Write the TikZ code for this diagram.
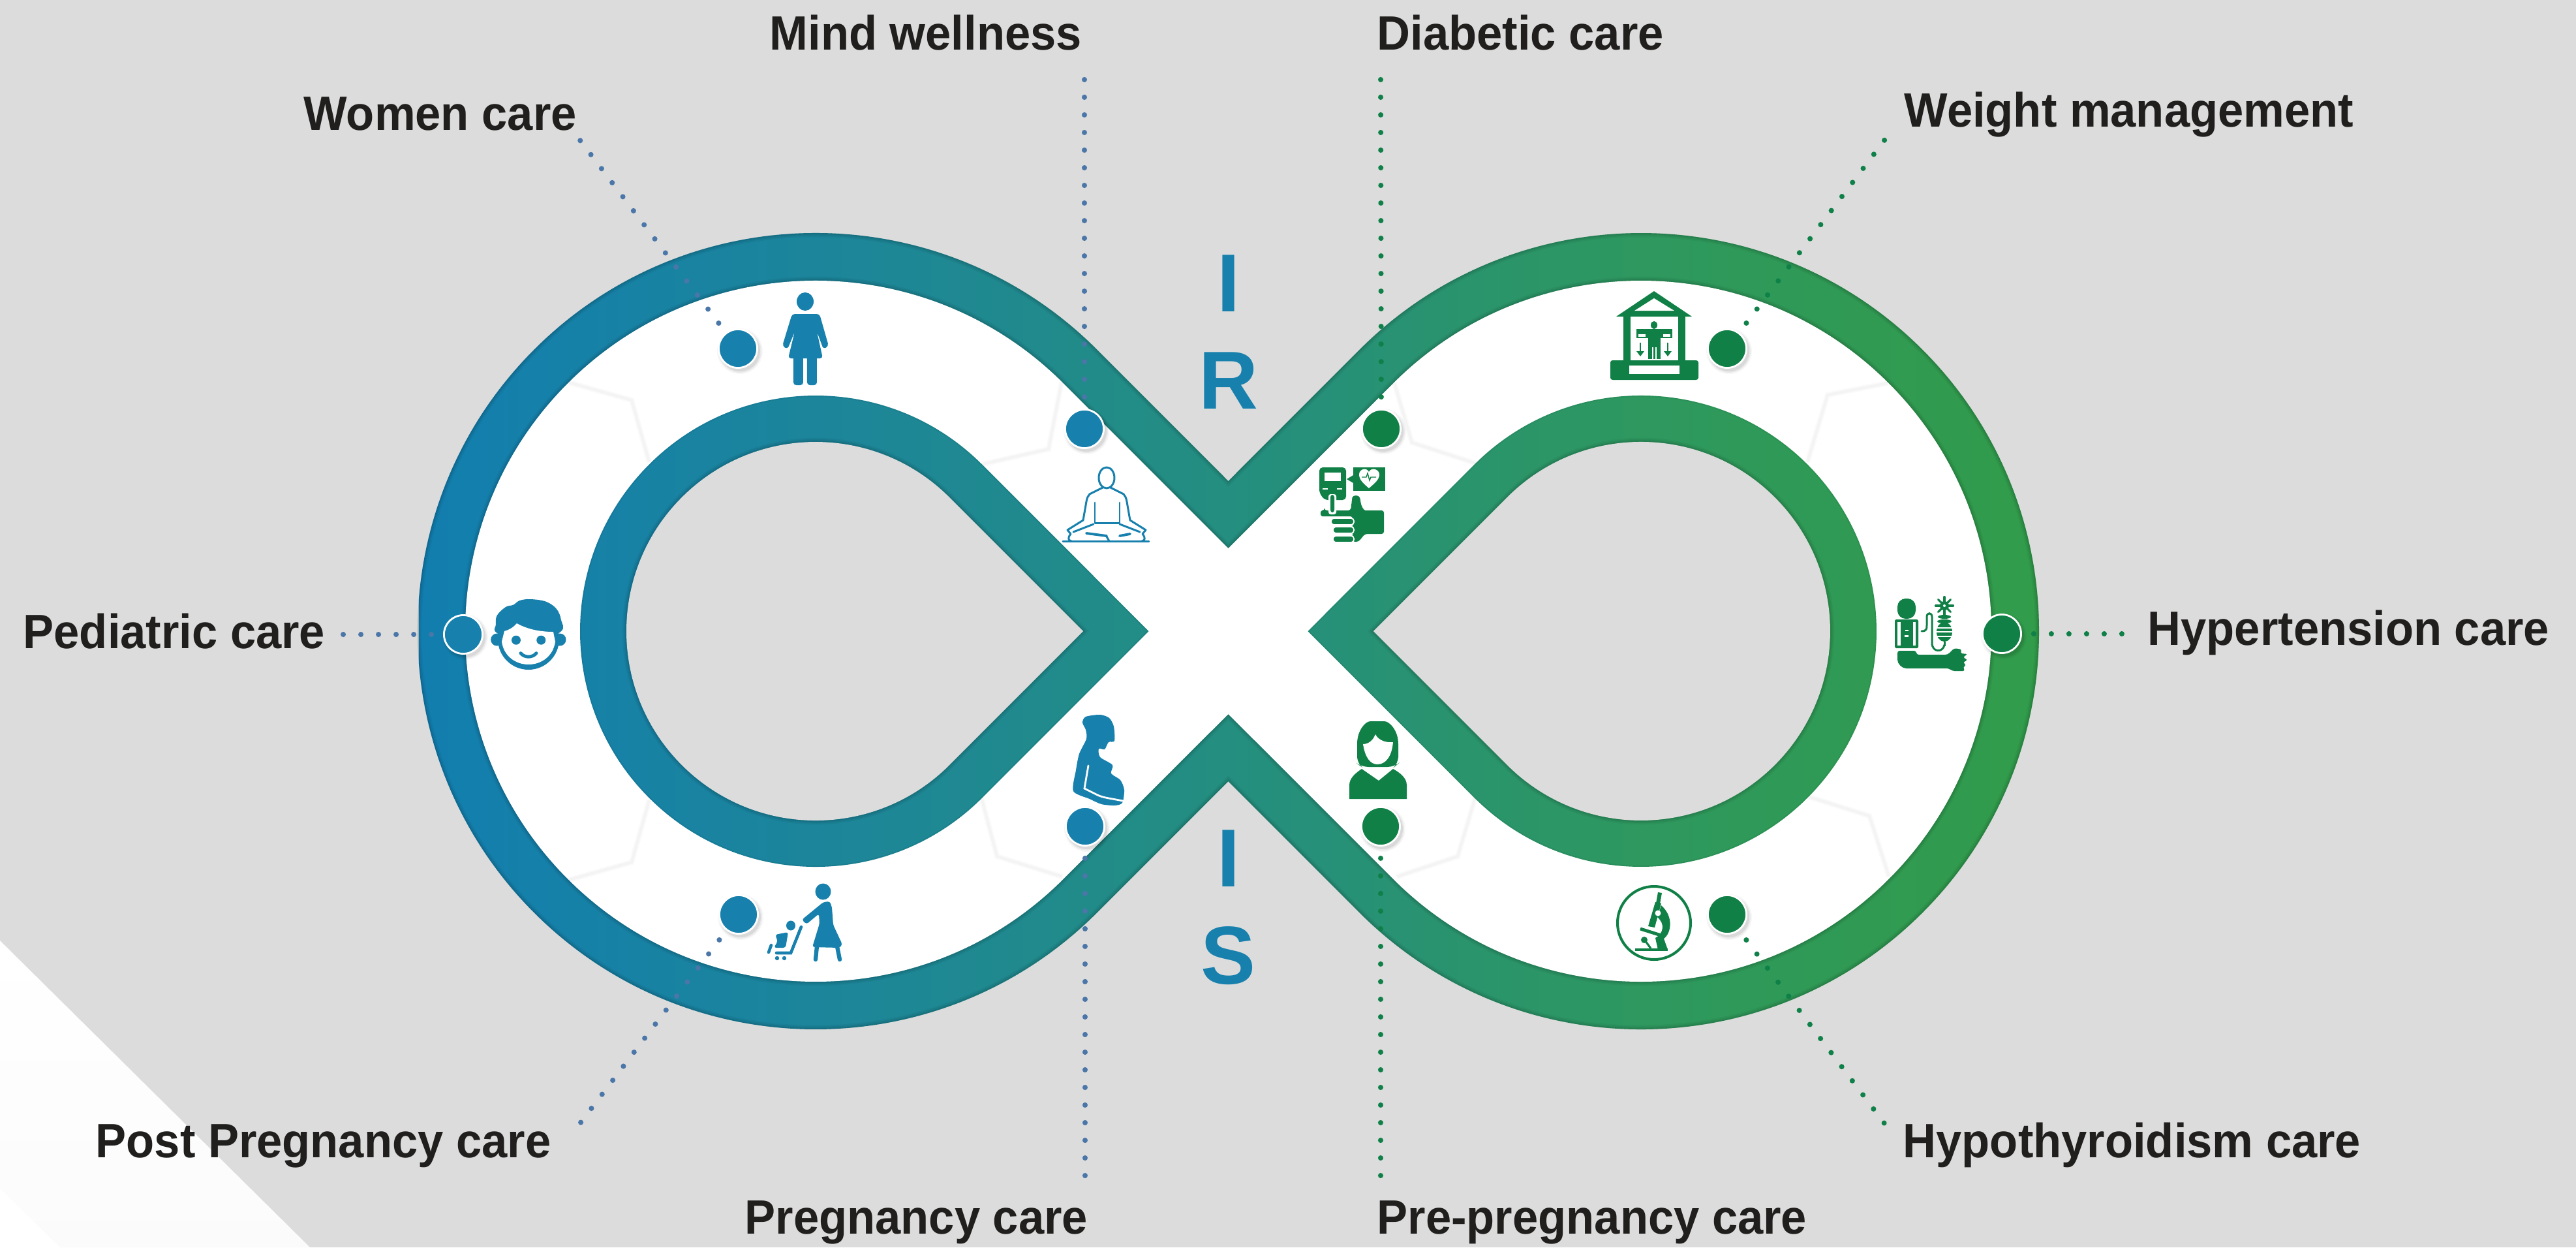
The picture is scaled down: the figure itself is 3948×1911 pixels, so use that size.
\documentclass[tikz,border=0pt]{standalone}
\usepackage{fontspec}
\newfontfamily\labf{Liberation Sans}[FakeStretch=0.955]
\newfontfamily\irisf{Liberation Sans}
\definecolor{bgg}{HTML}{DCDCDC}
\definecolor{cb}{HTML}{1780AD}
\definecolor{cg}{HTML}{108046}
\definecolor{dotb}{HTML}{4A76A8}
\definecolor{dotg}{HTML}{0F8048}
\definecolor{gra}{HTML}{127EAF}
\definecolor{grb}{HTML}{1C859B}
\definecolor{grc}{HTML}{248E80}
\definecolor{grd}{HTML}{2E985F}
\definecolor{gre}{HTML}{319C4A}
\definecolor{txt}{HTML}{201F1D}
\pgfdeclarehorizontalshading{irisgrad}{100bp}{color(0bp)=(gra); color(25bp)=(gra); color(37.25bp)=(grb); color(50bp)=(grc); color(62.75bp)=(grd); color(75bp)=(gre); color(100bp)=(gre)}
\def\outerpath{(0,230) -- (201.2,431.3) arc (135:-135:610) -- (0,-230) -- (-201.2,-431.3) arc (-45:-315:610) -- cycle}
\def\whitepath{(0,127) -- (252.8,379.7) arc (135:-135:537) -- (0,-127) -- (-252.8,-379.7) arc (-45:-315:537) -- cycle}
\def\ringR{(122,0) -- (377.2,255.3) arc (135:-135:361) -- cycle}
\def\ringL{(-122,0) -- (-377.2,-255.3) arc (-45:-315:361) -- cycle}
\def\holeR{(222.3,0) -- (427.4,205.1) arc (135:-135:290) -- cycle}
\def\holeL{(-222.3,0) -- (-427.4,-205.1) arc (-45:-315:290) -- cycle}
\newcommand\softstroke[1]{%
  \draw[black,opacity=.04,line width=3.6pt] #1;
  \draw[black,opacity=.05,line width=2.4pt] #1;
  \draw[black,opacity=.07,line width=1.2pt] #1;}
\newcommand\iconspot[4]{% name, x, y, colour
  \foreach \rr/\oo in {35/.03,33/.05,31/.07}{\fill[black,opacity=\oo] (#2+3,#3+4) circle (\rr);}
  \node[spotnode,fill=#4] (#1) at (#2,#3) {};}
\tikzset{
  x=0.01cm,y=0.01cm,
  spotnode/.style={circle,draw=white,line width=.8pt,inner sep=0pt,minimum size=16.8pt},
  bluedots/.style={draw=dotb,line width=2.3pt,line cap=round,dash pattern=on 0pt off 7.68pt,shorten <=5.1pt},
  greendots/.style={draw=dotg,line width=2.3pt,line cap=round,dash pattern=on 0pt off 7.68pt,shorten <=5.1pt},
  lab/.style={font=\labf\bfseries\fontsize{21}{25}\selectfont,text=txt,anchor=base west,inner sep=0pt},
  irisl/.style={font=\irisf\bfseries\fontsize{35.8}{40}\selectfont,text=cb,anchor=base,inner sep=0pt},
  facet/.style={line join=miter},
  thinb/.style={draw=cb,line width=.85pt,line cap=round,line join=round},
  thing/.style={draw=cg,line width=.85pt,line cap=round,line join=round}
}
\begin{document}
\begin{tikzpicture}
\path[use as bounding box] (-1882.5,-944) rectangle (2065.5,967);
\fill[bgg] (-1882.5,-944) rectangle (2065.5,967);

% ---- image coordinates from here: x right, y down, in reference pixels
\begin{scope}[shift={(-1882.5,967)},yscale=-1]
  \shade[top color=white,bottom color=white!97!gray] (0,1441) -- (3,1444) -- (475,1911) -- (0,1911) -- cycle;
  \fill[white] (0,1821) -- (3,1824) -- (92,1911) -- (0,1911) -- cycle;
\end{scope}

% ---- outer band
\begin{scope}
  \clip \outerpath;
  \shade[shading=irisgrad] (-1240.5,-700) rectangle (1242.5,700);
  \softstroke{\outerpath}
  \softstroke{\whitepath}
\end{scope}
\fill[white] \whitepath;

% ---- faint facets on the white track
\begin{scope}[shift={(-1882.5,967)},yscale=-1]
  \foreach \ax/\ay/\bx/\by/\cx/\cy in {872/586/968/613/995/708,1627/586/1607/688/1506/711,
     1504/1222/1528/1312/1628/1343,872/1348/968/1321/995/1226,
     2137/587/2164/678/2262/710,2893/587/2801/605/2770/708,
     2261/1222/2234/1312/2141/1343,2770/1220/2865/1250/2895/1343}{
    \draw[black,opacity=.02,line width=2.4pt,facet] (\ax,\ay) -- (\bx,\by) -- (\cx,\cy);
    \draw[black,opacity=.025,line width=1.2pt,facet] (\ax,\ay) -- (\bx,\by) -- (\cx,\cy);
  }
\end{scope}

% ---- inner rings
\begin{scope}
  \clip \ringR \ringL;
  \shade[shading=irisgrad] (-1240.5,-700) rectangle (1242.5,700);
  \softstroke{\holeR}
  \softstroke{\holeL}
  \draw[black,opacity=.05,line width=1.2pt] \ringR;
  \draw[black,opacity=.05,line width=1.2pt] \ringL;
\end{scope}
\fill[bgg] \holeR;
\fill[bgg] \holeL;

\begin{scope}[shift={(-1882.5,967)},yscale=-1]
  % free ends of the dotted connectors
  \coordinate (endW) at (886,211);
  \coordinate (endM) at (1662,113);
  \coordinate (endD) at (2116,113);
  \coordinate (endG) at (2891,211);
  \coordinate (endH) at (3256,971);
  \coordinate (endP) at (524,972);
  \coordinate (endT) at (2891,1725);
  \coordinate (endN) at (2116,1805);
  \coordinate (endQ) at (1663,1805);
  \coordinate (endS) at (886,1725);

  \iconspot{spotW}{1131}{534}{cb}
  \iconspot{spotM}{1662}{657}{cb}
  \iconspot{spotP}{710}{972}{cb}
  \iconspot{spotQ}{1663}{1266}{cb}
  \iconspot{spotS}{1132}{1401}{cb}
  \iconspot{spotD}{2117}{657}{cg}
  \iconspot{spotG}{2647}{534}{cg}
  \iconspot{spotH}{3068}{971}{cg}
  \iconspot{spotN}{2116}{1266}{cg}
  \iconspot{spotT}{2647}{1401}{cg}

  \draw[bluedots] (spotW) -- (endW);
  \draw[bluedots] (spotM) -- (endM);
  \draw[bluedots] (spotP) -- (endP);
  \draw[bluedots] (spotQ) -- (endQ);
  \draw[bluedots] (spotS) -- (endS);
  \draw[greendots] (spotD) -- (endD);
  \draw[greendots] (spotG) -- (endG);
  \draw[greendots] (spotH) -- (endH);
  \draw[greendots] (spotN) -- (endN);
  \draw[greendots] (spotT) -- (endT);

  % labels
  \node[lab] (tW) at (465,200) {Women care};
  \node[lab] (tM) at (1179,77) {Mind wellness};
  \node[lab] (tD) at (2110,77) {Diabetic care};
  \node[lab] (tG) at (2918,195) {Weight management};
  \node[lab] (tH) at (3291,988) {Hypertension care};
  \node[lab] (tP) at (35,993) {Pediatric care};
  \node[lab] (tT) at (2916,1773) {Hypothyroidism care};
  \node[lab] (tN) at (2110,1890) {Pre-pregnancy care};
  \node[lab] (tQ) at (1141,1890) {Pregnancy care};
  \node[lab] (tS) at (146,1773) {Post Pregnancy care};

  \node[irisl] (l1) at (1882.5,477) {I};
  \node[irisl] (l2) at (1882.5,626) {R};
  \node[irisl] (l3) at (1882.5,1358) {I};
  \node[irisl] (l4) at (1882.5,1507) {S};

  % ---- woman icon
  \fill[cb] (1234,462) ellipse (13 and 14);
  \fill[cb,rounded corners=1.2pt] (1214,481) -- (1256,481) -- (1270,530) -- (1262,535) -- (1252,508) -- (1261,549) -- (1208,549) -- (1218,508) -- (1207,535) -- (1199,530) -- cycle;
  \fill[cb,rounded corners=1.2pt] (1216,545) rectangle (1231,590);
  \fill[cb,rounded corners=1.2pt] (1237,545) rectangle (1252,590);

  % ---- meditation icon
  \draw[thinb] (1696,732) ellipse (12 and 16);
  \draw[thinb] (1690,747) -- (1670,757) .. controls (1665,762) and (1665,770) .. (1663,780) -- (1660,797) -- (1636,812) -- (1641,818);
  \draw[thinb] (1702,747) -- (1722,757) .. controls (1727,762) and (1727,770) .. (1729,780) -- (1732,797) -- (1756,812) -- (1751,818);
  \draw[thinb] (1678,770) -- (1678,801) -- (1716,801) -- (1716,770);
  \draw[thinb] (1645,815) -- (1676,803);
  \draw[thinb] (1747,815) -- (1716,803);
  \draw[thinb] (1641,818) .. controls (1636,824) and (1637,828) .. (1642,829);
  \draw[thinb] (1751,818) .. controls (1756,824) and (1755,828) .. (1750,829);
  \draw[thinb,line width=1.1pt] (1665,817) -- (1696,821);
  \draw[thinb,line width=1.1pt] (1716,821) -- (1732,818);
  \draw[thinb] (1696,822) -- (1700,829);
  \draw[thinb] (1629,829) -- (1761,829);

  % ---- pediatric icon
  \fill[cb] (761.7,980) circle (9.5);
  \fill[cb] (858,980) circle (9.5);
  \fill[cb] (810,979) circle (47);
  \fill[cb] plot[smooth cycle,tension=.6] coordinates {(760,957) (761.7,943) (775,930) (786.7,926.7) (796.7,920) (813,918) (836.7,921.7) (853,933) (860,950) (859,968) (810,990) (762,970)};
  \fill[white] (769,983) .. controls (772,1005) and (790,1018) .. (810,1018) .. controls (830,1018) and (848,1005) .. (851,983) -- (848,968) .. controls (830,968) and (810,965) .. (792,955) .. controls (786,962) and (780,965) .. (773,967) -- cycle;
  \fill[cb] (791,980.7) circle (7);
  \fill[cb] (829.3,980.7) circle (7);
  \draw[cb,line width=1.4pt,line cap=round] (798,1000.7) .. controls (804,1008) and (816,1008) .. (822,1000.7);

  % ---- pregnant woman icon
  \fill[cb] plot[smooth cycle,tension=.45] coordinates {(1659,1107) (1664,1098) (1686,1095) (1700,1100) (1707,1113) (1708,1135) (1699,1137) (1693,1148) (1684,1147) (1686,1160) (1705,1172) (1703,1185) (1717,1195) (1723,1210) (1720,1230) (1708,1234) (1688,1232) (1670,1224) (1645,1212) (1649,1180) (1654,1155) (1665,1132) (1664,1118)};
  \draw[white,line width=.8pt,line cap=round] (1668,1173) -- (1662,1208) -- (1680,1217) .. controls (1690,1222) and (1695,1222) .. (1721,1227);

  % ---- mother and stroller icon
  \fill[cb] (1261.5,1366) ellipse (12 and 12.5);
  \fill[cb,rounded corners=1pt] (1262,1382) -- (1272,1381) -- (1275,1390) -- (1277,1417) -- (1291,1447) -- (1287,1452) -- (1245,1451) -- (1256,1415) -- (1255,1400) -- (1236,1416) -- (1229,1409) -- cycle;
  \draw[cb,line width=1.8pt,line cap=round] (1252,1450) -- (1250,1470);
  \draw[cb,line width=1.8pt,line cap=round] (1283,1450) -- (1287,1470);
  \fill[cb] (1212,1418) ellipse (7 and 7.5);
  \draw[cb,line width=1.3pt,line cap=round] (1228,1420) -- (1212,1460) -- (1190,1460);
  \fill[cb,rounded corners=1pt] (1188,1432) -- (1208,1428) -- (1204,1452) -- (1186,1452) -- (1192,1442) -- cycle;
  \draw[cb,line width=1.3pt,line cap=round] (1182,1448) -- (1178,1459);
  \fill[cb] (1191,1468) circle (3.2);
  \fill[cb] (1202,1468) circle (3.2);

  % ---- scale / weight icon
  \fill[cg] (2535,446) -- (2593,485) -- (2477,485) -- cycle;
  \fill[white] (2535,457) -- (2566,476) -- (2505,476) -- cycle;
  \fill[cg] (2488,484) rectangle (2499,552);
  \fill[cg] (2572,484) rectangle (2583,552);
  \fill[cg,rounded corners=1pt] (2468,552) rectangle (2603,582);
  \fill[white] (2497,560) rectangle (2574,573);
  \fill[cg] (2535,498) ellipse (5 and 6);
  \fill[cg] (2508,504) rectangle (2563,518);
  \fill[white] (2511,512) rectangle (2522,516);
  \fill[white] (2549,512) rectangle (2560,516);
  \fill[cg] (2526,518) rectangle (2545,550);
  \fill[white] (2532,532) rectangle (2534,550);
  \fill[white] (2537,532) rectangle (2539,550);
  \draw[cg,line width=.8pt] (2514,525) -- (2514,540);
  \fill[cg] (2508,538) -- (2520,538) -- (2514,546) -- cycle;
  \draw[cg,line width=.8pt] (2556,525) -- (2556,540);
  \fill[cg] (2550,538) -- (2562,538) -- (2556,546) -- cycle;

  % ---- diabetic icon
  \fill[cg,rounded corners=1.5pt] (2022,716) -- (2063,716) -- (2063,766) -- (2030,766) -- (2022,755) -- cycle;
  \fill[white] (2030,724) rectangle (2055,737);
  \fill[white] (2027,748) rectangle (2035,750);
  \fill[white] (2049,748) rectangle (2057,750);
  \fill[cg] (2074,716) rectangle (2123,752);
  \fill[cg] (2064,734) -- (2074,728) -- (2074,740) -- cycle;
  \fill[white] (2098,748) .. controls (2090,741) and (2083,735) .. (2083,727) .. controls (2083,719) and (2094,715) .. (2098,723) .. controls (2102,715) and (2114,719) .. (2114,727) .. controls (2114,735) and (2106,741) .. (2098,748);
  \draw[cg,line width=.4pt] (2087,731) -- (2094,731) -- (2096,725) -- (2099,736) -- (2101,731) -- (2109,731);
  \fill[cg,rounded corners=1pt] (2030,782) -- (2070,782) -- (2072,766) .. controls (2073,758) and (2083,758) .. (2085,766) .. controls (2086,775) and (2090,782) .. (2096,782) -- (2121,782) -- (2121,818) -- (2092,818) -- (2082,830) -- (2073,830) -- (2073,791) -- (2030,791) .. controls (2023,791) and (2023,782) .. (2030,782) -- cycle;
  \fill[white,rounded corners=1pt] (2036,757) rectangle (2048,788);
  \fill[cg,rounded corners=1pt] (2039,758) rectangle (2045,785);
  \foreach \yy/\xx in {794/2040,807/2043,821/2043}{
    \fill[cg,rounded corners=1.2pt,draw=white,line width=.5pt] (\xx,\yy) rectangle (2075,\yy+10);
  }

  % ---- hypertension icon
  \fill[cg,rounded corners=3.6pt] (2908,948) -- (2908,917) -- (2936,917) -- (2936,948) -- cycle;
  \fill[cg,rounded corners=.5pt] (2904,949) rectangle (2940,993);
  \fill[white] (2908,953) rectangle (2913,989);
  \fill[white] (2932,953) rectangle (2936,989);
  \fill[white] (2920,965) rectangle (2925,967);
  \fill[white] (2919,973) rectangle (2925,976);
  \fill[cg,rounded corners=1pt] (2908,997) -- (2937,997) -- (2937,1003) -- (2985,1003) -- (2995,993) -- (3007,995) -- (3004,1001) -- (3016,1002) -- (3008,1007) -- (3016,1011) -- (3008,1015) -- (3014,1019) -- (3008,1022) -- (3012,1028) -- (2992,1028) -- (2987,1024) -- (2925,1024) .. controls (2915,1024) and (2908,1017) .. (2908,1007) -- cycle;
  \draw[cg,line width=.85pt,line cap=round] (2945,967) .. controls (2953,967) and (2953,963) .. (2953,958) -- (2953,945) .. controls (2953,938) and (2961,938) .. (2961,945) -- (2961,985) .. controls (2961,1000) and (2978,1000) .. (2980,988);
  \foreach \aa in {0,45,...,315}{\draw[cg,line width=.9pt,line cap=round] (2980,928) -- +(\aa:13.5);}
  \fill[cg] (2980,928) circle (7);
  \fill[white] (2980,928) circle (2);
  \fill[cg] (2980,945) ellipse (10 and 3);
  \fill[cg] (2980,952) ellipse (11 and 3);
  \fill[cg] (2980,968) ellipse (12 and 15);
  \foreach \yy in {961,967,974}{\fill[white] (2967,\yy) rectangle (2993,\yy+1.6);}
  \draw[cg,line width=.85pt] (2980,983) -- (2980,990);

  % ---- woman bust icon
  \fill[cg,rounded corners=3pt] (2080,1150) .. controls (2080,1120) and (2092,1105) .. (2111,1105) .. controls (2130,1105) and (2143,1120) .. (2143,1150) -- (2143,1170) -- (2137,1175) -- (2087,1175) -- (2080,1170) -- cycle;
  \fill[white] (2089,1140) .. controls (2097,1140) and (2104,1135) .. (2108,1125) .. controls (2113,1135) and (2125,1138) .. (2135,1137) .. controls (2133,1160) and (2123,1171) .. (2111,1171) .. controls (2100,1171) and (2092,1160) .. (2089,1140) -- cycle;
  \fill[cg] (2068,1224) -- (2068,1203) .. controls (2068,1192) and (2078,1184) .. (2087,1178) -- (2113,1196) -- (2135,1178) .. controls (2146,1184) and (2156,1192) .. (2156,1203) -- (2156,1224) -- cycle;

  % ---- microscope icon
  \draw[cg,line width=1.15pt] (2535,1414) circle (56);
  \fill[cg] (2506,1453) rectangle (2556,1457);
  \fill[cg] (2541,1367) -- (2547,1368) -- (2544,1385) -- (2538,1384) -- cycle;
  \fill[cg] (2537,1382) -- (2546,1384) -- (2536,1421) -- (2526,1419) -- cycle;
  \fill[cg] (2546,1387) .. controls (2566,1405) and (2561,1430) .. (2550,1438) -- (2556,1455) -- (2541,1455) -- (2537,1437) .. controls (2550,1430) and (2552,1415) .. (2540,1405) -- cycle;
  \fill[white] (2541,1399) circle (4.5);
  \draw[cg,line width=1.4pt] (2514,1423) -- (2549,1434);
  \fill[cg] (2520,1440) circle (5);
  \draw[cg,line width=.9pt] (2522,1442) -- (2530,1453);
\end{scope}
\end{tikzpicture}
\end{document}
